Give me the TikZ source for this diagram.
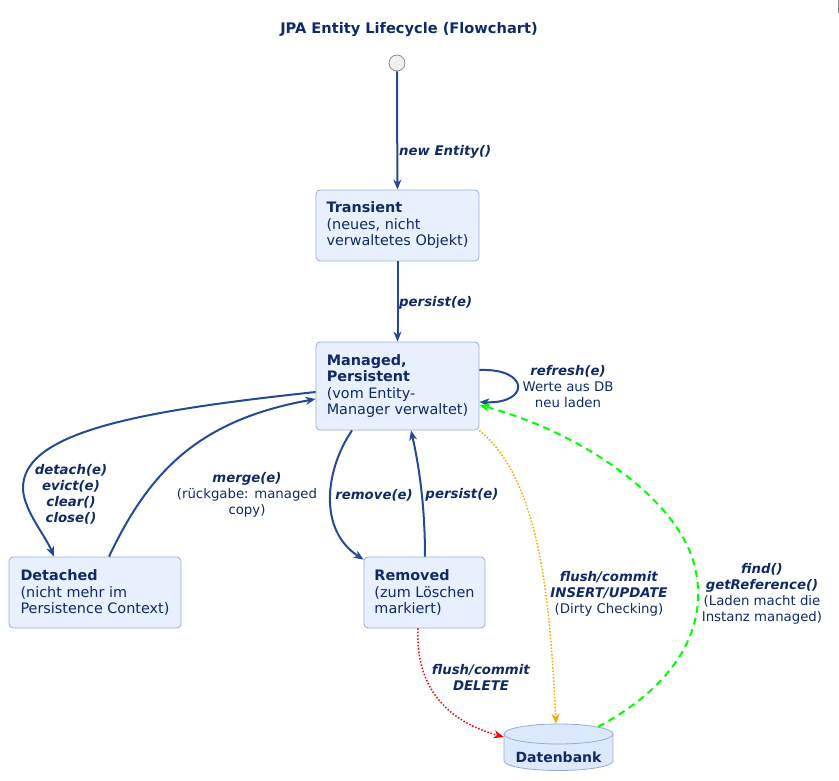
\documentclass[tikz,border=0pt]{standalone}
\usepackage{fontspec}
\setmainfont{DejaVu Sans}[BoldFont={DejaVu Sans Bold},ItalicFont={DejaVu Sans Oblique},BoldItalicFont={DejaVu Sans Bold Oblique}]
\usetikzlibrary{arrows.meta}
\definecolor{navy}{RGB}{15,42,102}
\definecolor{edgeblue}{RGB}{36,74,150}
\definecolor{boxfill}{RGB}{232,240,253}
\definecolor{boxline}{RGB}{150,172,215}
\definecolor{dbfill}{RGB}{220,232,251}
\definecolor{startfill}{RGB}{240,240,240}
\definecolor{startline}{RGB}{140,140,140}
\definecolor{greenflow}{RGB}{0,255,0}
\definecolor{orangeflow}{RGB}{255,165,0}
\definecolor{redflow}{RGB}{255,0,0}
\begin{document}
\begin{tikzpicture}[x=1pt,y=-1pt,
  state/.style={draw=boxline, fill=boxfill, rounded corners=4pt, line width=0.8pt, align=left, inner sep=0pt, text=navy, minimum width=#1, font=\fontsize{14.4}{16.5}\selectfont},
  lbl/.style={text=navy, align=center, inner sep=0pt, font=\fontsize{13.3}{16}\selectfont},
  flow/.style={draw=edgeblue, line width=2pt, -{Stealth[length=10pt,width=8pt,inset=3pt]}},
  tip/.style={-{Stealth[length=10pt,width=8pt,inset=3pt]}},
]
\useasboundingbox (0,0) rectangle (839,781);
\draw[startline, line width=1pt] (838.5,0) -- (838.5,13);

\node[text=navy, font=\fontsize{14.6}{17}\selectfont\bfseries] (title) at (409,30) {JPA Entity Lifecycle (Flowchart)};

\node[circle, draw=startline, fill=startfill, minimum size=16pt, inner sep=0pt, line width=0.8pt] (st) at (397,63) {};

\node[state=163pt, minimum height=71pt] (tr) at (397.5,225.5) {\textbf{Transient}\\(neues, nicht\\verwaltetes Objekt)};
\node[state=163pt, minimum height=88pt] (man) at (397.5,386) {\textbf{Managed,}\\\textbf{Persistent}\\(vom Entity-\\Manager verwaltet)};
\node[state=172pt, minimum height=71pt] (det) at (95,592.5) {\textbf{Detached}\\(nicht mehr im\\Persistence Context)};
\node[state=121pt, minimum height=71pt] (rem) at (424.5,592.5) {\textbf{Removed}\\(zum Löschen\\markiert)};

% database cylinder
\node[minimum width=109pt, minimum height=47pt, inner sep=0pt] (db) at (558.5,747.5) {};
\path[fill=dbfill] (558.5,761) ellipse[x radius=54.5pt, y radius=9.5pt];
\path[fill=dbfill] (504,734) rectangle (613,761);
\draw[boxline, line width=0.8pt] (504,734) -- (504,761) arc[start angle=180, end angle=360, x radius=54.5pt, y radius=9.5pt] -- (613,734);
\draw[boxline, fill=dbfill, line width=0.8pt] (558.5,734) ellipse[x radius=54.5pt, y radius=10pt];
\node[text=navy, inner sep=0pt, font=\fontsize{14}{16.5}\selectfont\bfseries] (dbtext) at (558.5,757) {Datenbank};

% blue flows
\draw[flow] (st) -- (tr);
\draw[flow] (tr) -- (man);
\draw[flow] ([yshift=16pt]man.east) .. controls (530,368) and (530,404) .. ([yshift=-16pt]man.east);
\draw[flow] ([yshift=-6pt]man.west) .. controls (150,410) and (20,430) .. (23,490) .. controls (25,512) and (45,535) .. ([xshift=-41pt]det.north);
\draw[flow] ([xshift=14pt]det.north) .. controls (150,470) and (200,420) .. ([yshift=-13pt]man.west);
\draw[flow] ([xshift=-45.5pt]man.south) .. controls (325,470) and (318,530) .. ([yshift=-3pt]rem.north west);
\draw[flow] ([xshift=0.5pt]rem.north) .. controls (425,510) and (420,470) .. ([xshift=13.5pt]man.south);

% colored flows
\draw[orangeflow, line width=1.5pt, dash pattern=on 1.5pt off 1.8pt, tip] (man.south east) .. controls (540,480) and (550,600) .. ([xshift=-2.5pt]db.north);
\draw[redflow, line width=1.5pt, dash pattern=on 1.5pt off 1.8pt, tip] ([xshift=-6.5pt]rem.south) .. controls (415,690) and (450,722) .. ([yshift=10.5pt]db.west);
\draw[greenflow, line width=2pt, dash pattern=on 7pt off 5pt, tip] ([xshift=39.5pt,yshift=-3pt]db.north) .. controls (682,682) and (708,622) .. (695,568) .. controls (682,505) and (590,435) .. ([yshift=-19pt]man.east);

% labels
\node[lbl, anchor=west] (l1) at (399,152) {\textbf{\textit{new Entity()}}};
\node[lbl, anchor=west] (l2) at (399,303) {\textbf{\textit{persist(e)}}};
\node[lbl] (l3) at (568,387) {\textbf{\textit{refresh(e)}}\\Werte aus DB\\neu laden};
\node[lbl] (l4) at (71,494.5) {\textbf{\textit{detach(e)}}\\\textbf{\textit{evict(e)}}\\\textbf{\textit{clear()}}\\\textbf{\textit{close()}}};
\node[lbl] (l5) at (247,495) {\textbf{\textit{merge(e)}}\\(rückgabe: managed\\copy)};
\node[lbl] (l6) at (374,495) {\textbf{\textit{remove(e)}}};
\node[lbl] (l7) at (462,495) {\textbf{\textit{persist(e)}}};
\node[lbl] (l8) at (609,594) {\textbf{\textit{flush/commit}}\\\textbf{\textit{INSERT/UPDATE}}\\(Dirty Checking)};
\node[lbl] (l9) at (481,677.5) {\textbf{\textit{flush/commit}}\\\textbf{\textit{DELETE}}};
\node[lbl] (l10) at (762,593.5) {\textbf{\textit{find()}}\\\textbf{\textit{getReference()}}\\(Laden macht die\\Instanz managed)};
\end{tikzpicture}
\end{document}
